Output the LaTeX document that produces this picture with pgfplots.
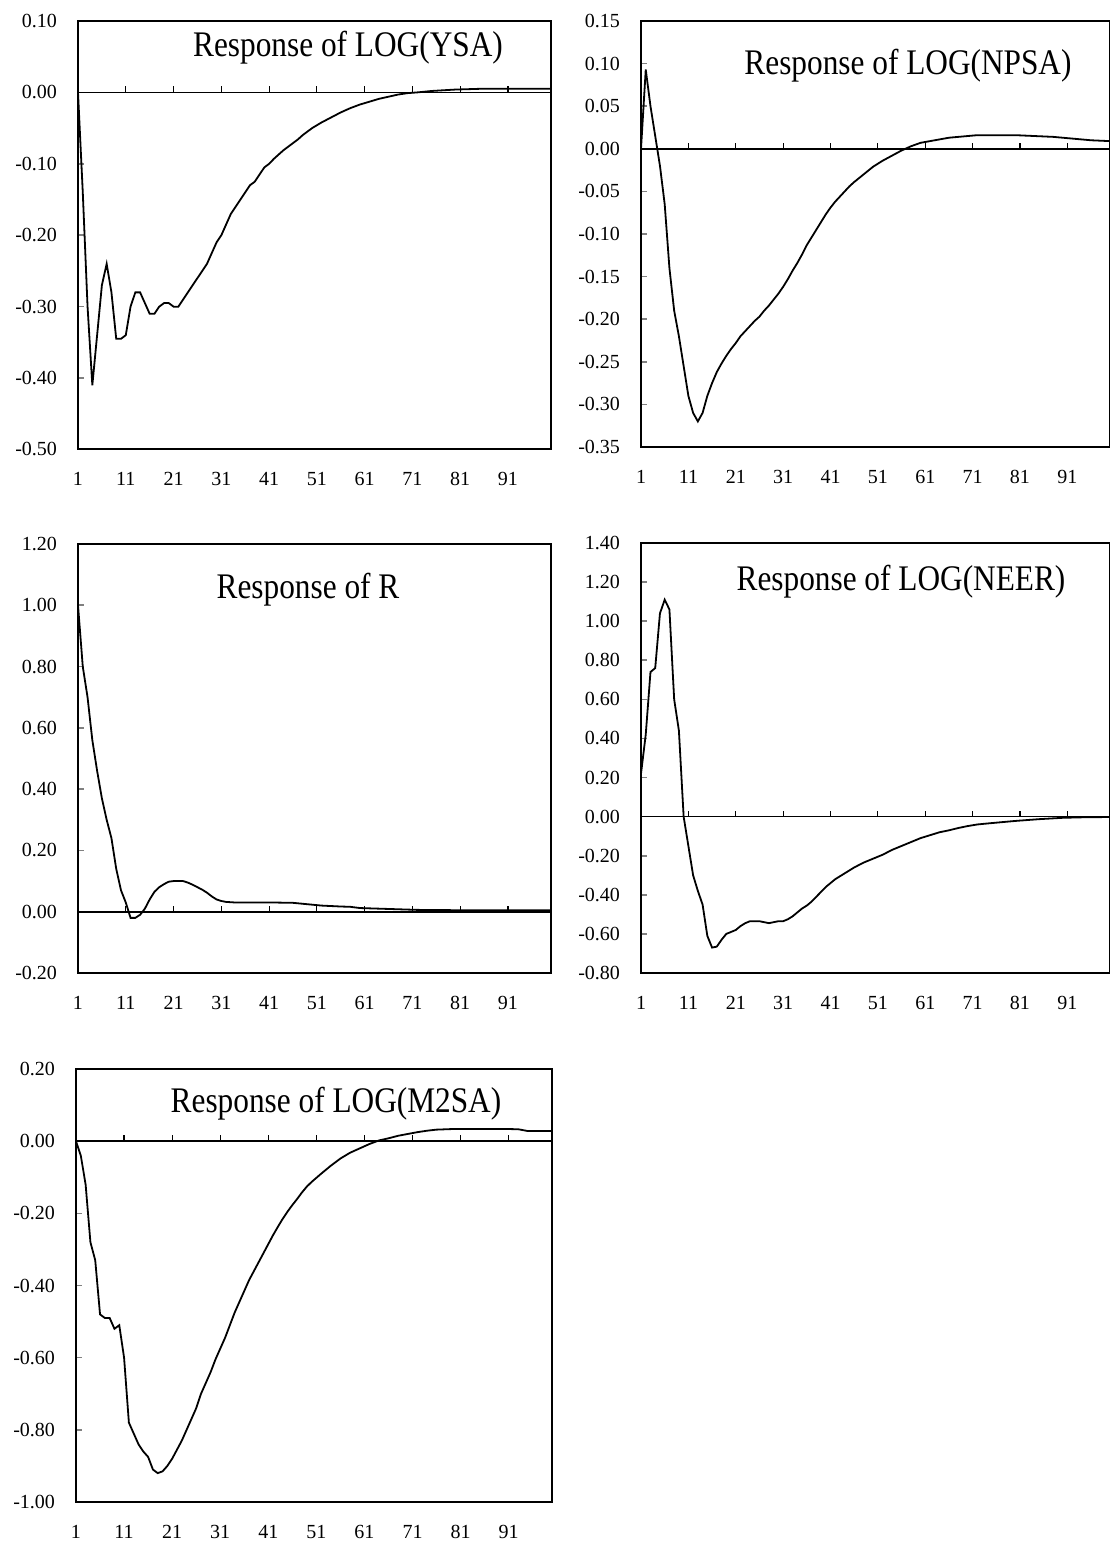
\documentclass[border=0pt]{standalone}
\usepackage{pgfplots}
\pgfplotsset{compat=1.18}
\usepackage{fontspec}
\setmainfont{Liberation Serif}
\newcommand\ttl[1]{\scalebox{0.87}[1]{\fontsize{18pt}{21pt}\selectfont #1}}
\begin{document}
\begin{tikzpicture}
\useasboundingbox (0,0) rectangle (554.5pt,-772.5pt);
\pgfplotsset{irf/.style={
  scale only axis, anchor=north west, xmin=1, xmax=100,
  xtick={1,11,21,31,41,51,61,71,81,91}, xtick style={draw=none},
  ytick pos=left, tick align=inside, major tick length=3pt,
  ytick style={line width=0.8pt},
  axis line style={line width=1pt},
  tick label style={font=\fontsize{10pt}{12pt}\selectfont},
  /pgf/number format/assume math mode=true,
  y tick label style={/pgf/number format/fixed, /pgf/number format/fixed zerofill, /pgf/number format/precision=2},
  xticklabel shift=8pt, yticklabel shift=7pt,
  clip=false,
}}
\newcommand\zeroline{%
  \draw[line width=0.8pt] (axis cs:1,0) -- (axis cs:100,0);
  \pgfplotsinvokeforeach{11,21,31,41,51,61,71,81,91}{\draw[line width=0.6pt] (axis cs:##1,0) -- ++(0pt,3pt);}%
}
% Panel 1
\begin{axis}[irf, at={(39pt,-10.5pt)}, width=236.5pt, height=214.25pt,
  ymin=-0.5, ymax=0.1, ytick={-0.5,-0.4,-0.3,-0.2,-0.1,0,0.1}]
\zeroline
\addplot[black, line width=0.9pt] table {
1 0
2 -0.14
3 -0.30
4 -0.41
5 -0.34
6 -0.27
7 -0.24
8 -0.28
9 -0.345
10 -0.345
11 -0.34
12 -0.30
13 -0.28
14 -0.28
15 -0.295
16 -0.31
17 -0.31
18 -0.30
19 -0.295
20 -0.295
21 -0.30
22 -0.30
23 -0.29
24 -0.28
25 -0.27
26 -0.26
27 -0.25
28 -0.24
29 -0.225
30 -0.21
31 -0.20
32 -0.185
33 -0.17
34 -0.16
35 -0.15
36 -0.14
37 -0.13
38 -0.125
39 -0.115
40 -0.105
41 -0.10
42 -0.093
43 -0.087
44 -0.081
45 -0.076
46 -0.071
47 -0.066
48 -0.06
49 -0.055
50 -0.05
52 -0.042
54 -0.035
56 -0.028
58 -0.022
60 -0.017
62 -0.013
64 -0.009
66 -0.006
68 -0.003
70 -0.001
72 0.000
75 0.002
80 0.004
85 0.005
90 0.005
95 0.005
100 0.005
};
\end{axis}
% Panel 2
\begin{axis}[irf, at={(320.5pt,-10.5pt)}, width=234.5pt, height=213pt,
  ymin=-0.35, ymax=0.15, ytick={-0.35,-0.3,-0.25,-0.2,-0.15,-0.1,-0.05,0,0.05,0.1,0.15}]
\zeroline
\addplot[black, line width=0.9pt] table {
1 0
2 0.093
3 0.05
4 0.015
5 -0.02
6 -0.065
7 -0.14
8 -0.19
9 -0.22
10 -0.255
11 -0.29
12 -0.31
13 -0.32
14 -0.31
15 -0.29
16 -0.275
17 -0.262
18 -0.252
19 -0.243
20 -0.235
21 -0.228
22 -0.22
23 -0.214
24 -0.208
25 -0.202
26 -0.197
27 -0.19
28 -0.184
29 -0.177
30 -0.17
31 -0.162
32 -0.153
33 -0.143
34 -0.134
35 -0.124
36 -0.113
37 -0.104
38 -0.095
39 -0.086
40 -0.077
41 -0.069
42 -0.062
43 -0.056
44 -0.05
45 -0.044
46 -0.039
48 -0.03
50 -0.021
52 -0.014
54 -0.008
56 -0.002
58 0.003
60 0.007
62 0.009
64 0.011
66 0.013
68 0.014
70 0.015
72 0.016
75 0.016
80 0.016
84 0.015
88 0.014
92 0.012
96 0.010
100 0.009
};
\end{axis}
% Panel 3
\begin{axis}[irf, at={(39pt,-272pt)}, width=236.5pt, height=214.5pt,
  ymin=-0.2, ymax=1.2, ytick={-0.2,0,0.2,0.4,0.6,0.8,1.0,1.2}]
\zeroline
\addplot[black, line width=0.9pt] table {
1 1.00
2 0.80
3 0.70
4 0.56
5 0.46
6 0.37
7 0.30
8 0.24
9 0.14
10 0.07
11 0.03
12 -0.02
13 -0.02
14 -0.01
15 0.01
16 0.04
17 0.065
18 0.08
19 0.09
20 0.098
21 0.10
22 0.10
23 0.10
24 0.095
25 0.088
26 0.08
27 0.072
28 0.062
29 0.05
30 0.04
31 0.035
32 0.032
34 0.03
38 0.03
42 0.03
46 0.029
48 0.026
50 0.023
52 0.02
56 0.017
58 0.016
60 0.012
64 0.01
68 0.008
72 0.006
80 0.005
90 0.005
100 0.005
};
\end{axis}
% Panel 4
\begin{axis}[irf, at={(320.5pt,-271.5pt)}, width=234.5pt, height=215pt,
  ymin=-0.8, ymax=1.4, ytick={-0.8,-0.6,-0.4,-0.2,0,0.2,0.4,0.6,0.8,1.0,1.2,1.4}]
\zeroline
\addplot[black, line width=0.9pt] table {
1 0.22
2 0.42
3 0.74
4 0.76
5 1.04
6 1.11
7 1.06
8 0.60
9 0.44
10 0.00
11 -0.15
12 -0.30
13 -0.38
14 -0.45
15 -0.61
16 -0.67
17 -0.665
18 -0.63
19 -0.60
20 -0.59
21 -0.58
22 -0.56
23 -0.545
24 -0.535
25 -0.535
26 -0.535
27 -0.54
28 -0.545
29 -0.54
30 -0.535
31 -0.535
32 -0.525
33 -0.51
34 -0.49
35 -0.47
36 -0.455
37 -0.435
38 -0.41
39 -0.385
40 -0.36
42 -0.32
44 -0.29
46 -0.26
48 -0.235
50 -0.215
52 -0.195
54 -0.17
56 -0.15
58 -0.13
60 -0.11
62 -0.095
64 -0.08
66 -0.07
68 -0.058
70 -0.048
72 -0.04
75 -0.033
80 -0.022
85 -0.013
90 -0.006
95 -0.003
100 -0.002
};
\end{axis}
% Panel 5
\begin{axis}[irf, at={(38pt,-534.5pt)}, width=238pt, height=216.5pt,
  ymin=-1.0, ymax=0.2, ytick={-1.0,-0.8,-0.6,-0.4,-0.2,0,0.2}]
\zeroline
\addplot[black, line width=0.9pt] table {
1 0
2 -0.04
3 -0.12
4 -0.28
5 -0.33
6 -0.48
7 -0.49
8 -0.49
9 -0.52
10 -0.51
11 -0.60
12 -0.78
13 -0.81
14 -0.84
15 -0.86
16 -0.875
17 -0.91
18 -0.92
19 -0.915
20 -0.90
21 -0.88
22 -0.855
23 -0.83
24 -0.80
25 -0.77
26 -0.74
27 -0.70
28 -0.67
29 -0.64
30 -0.605
31 -0.575
32 -0.545
33 -0.51
34 -0.475
35 -0.445
36 -0.415
37 -0.385
38 -0.36
39 -0.335
40 -0.31
41 -0.285
42 -0.26
43 -0.237
44 -0.215
45 -0.195
46 -0.177
47 -0.16
48 -0.142
49 -0.126
50 -0.113
52 -0.09
54 -0.068
56 -0.048
58 -0.032
60 -0.02
62 -0.008
64 0.002
66 0.008
68 0.015
70 0.02
72 0.025
74 0.029
76 0.032
80 0.034
85 0.034
90 0.034
93 0.033
95 0.028
100 0.028
};
\end{axis}
\node[anchor=base] at (174pt,-28.5pt) {\ttl{Response of LOG(YSA)}};
\node[anchor=base] at (454pt,-37.5pt) {\ttl{Response of LOG(NPSA)}};
\node[anchor=base] at (154pt,-299pt) {\ttl{Response of R}};
\node[anchor=base] at (450.5pt,-295pt) {\ttl{Response of LOG(NEER)}};
\node[anchor=base] at (168pt,-556pt) {\ttl{Response of LOG(M2SA)}};
\end{tikzpicture}
\end{document}
